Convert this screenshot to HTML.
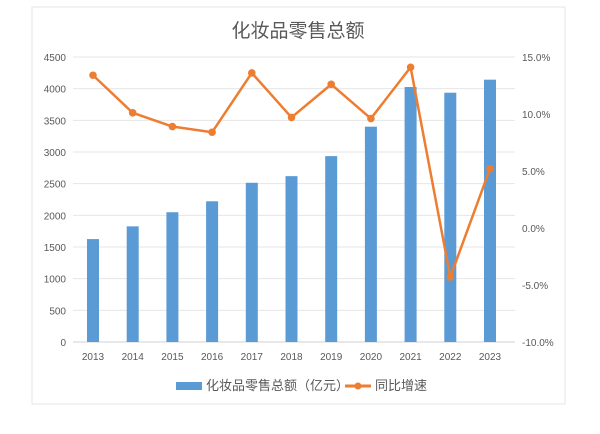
<!DOCTYPE html>
<html><head><meta charset="utf-8"><style>
body{margin:0;background:#fff;}
svg{display:block;font-family:"Liberation Sans","Noto Sans CJK SC",sans-serif;}
</style></head><body>
<svg id="chart" width="600" height="434">
<rect x="32" y="7" width="533" height="397" fill="#fff" stroke="#e6e6e6"/>
<text x="298" y="37" text-anchor="middle" font-size="19" fill="#595959">化妆品零售总额</text>
<g id="grid"></g><g id="bars"></g><g id="line"></g><g id="axes"></g>
<g>
<rect x="176" y="382" width="26" height="8" fill="#5b9bd5"/>
<text x="206" y="390" font-size="13" fill="#595959">化妆品零售总额（亿元）</text>
<line x1="345" y1="386" x2="371" y2="386" stroke="#ed7d31" stroke-width="3"/>
<circle cx="358" cy="386" r="3.5" fill="#ed7d31"/>
<text x="375" y="390" font-size="13" fill="#595959">同比增速</text>
</g>
</svg>
<script>
const years=["2013","2014","2015","2016","2017","2018","2019","2020","2021","2022","2023"];
const sales=[1625,1826,2049,2222,2514,2619,2935,3400,4026,3936,4142];
const growth=[13.4,10.1,8.9,8.4,13.6,9.7,12.6,9.6,14.1,-4.3,5.2];
const leftTicks=[0,500,1000,1500,2000,2500,3000,3500,4000,4500];
const rightTicks=[-10,-5,0,5,10,15];
const NS="http://www.w3.org/2000/svg";
const x0=93,step=39.7,plotTop=57,plotBot=342;
const xs=i=>x0+i*step;
const yL=v=>plotBot-(v/4500)*(plotBot-plotTop);
const yR=v=>plotBot-((v+10)/25)*(plotBot-plotTop);
function mk(tag,attrs,parent,txt){const e=document.createElementNS(NS,tag);for(const k in attrs)e.setAttribute(k,attrs[k]);if(txt!==undefined)e.textContent=txt;document.getElementById(parent).appendChild(e);return e;}
leftTicks.forEach(t=>{
 const g=mk('line',{x1:73,x2:515,y1:yL(t),y2:yL(t),stroke:t===0?'#d0d0d0':'#e6e6e6','stroke-width':1},'grid');
 
 
 const l=mk('text',{x:66,y:yL(t)+4,'text-anchor':'end','font-size':10,fill:'#595959'},'axes',t);
 
 
});
rightTicks.forEach(t=>{
 const l=mk('text',{x:522,y:yR(t)+4,'font-size':10,fill:'#595959'},'axes',t.toFixed(1)+'%');
 
 
});
years.forEach((y,i)=>{
 const b=mk('rect',{x:xs(i)-6,y:yL(sales[i]),width:12,height:plotBot-yL(sales[i]),fill:'#5b9bd5'},'bars');
 
 
 const l=mk('text',{x:xs(i),y:360,'text-anchor':'middle','font-size':10,fill:'#595959'},'axes',y);
 
 
});
const p=mk('polyline',{points:growth.map((v,i)=>xs(i)+','+yR(v)).join(' '),fill:'none',stroke:'#ed7d31','stroke-width':2.5,'stroke-linejoin':'round'},'line');


growth.forEach((v,i)=>{
 const c=mk('circle',{cx:xs(i),cy:yR(v),r:3.8,fill:'#ed7d31'},'line');
 
 
});
</script>
</body></html>
